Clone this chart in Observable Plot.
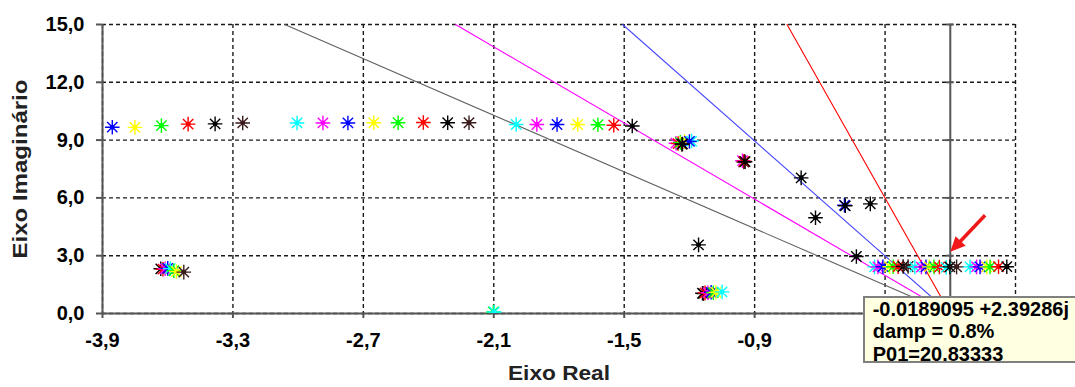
<!DOCTYPE html>
<html><head><meta charset="utf-8">
<script src="https://cdn.jsdelivr.net/npm/d3@7"></script>
<script src="https://cdn.jsdelivr.net/npm/@observablehq/plot@0.6"></script>
<style>
body{margin:0;background:#fff;}
#wrap{position:relative;width:1075px;height:387px;overflow:hidden;}
.tip{position:absolute;background:#ffffe1;border:2px solid #808080;font:bold 20px "Liberation Sans",Arial,sans-serif;line-height:22.5px;padding:0 0 0 8px;white-space:nowrap;box-sizing:border-box;color:#000;}
</style></head><body><div id="wrap"></div>
<script>
// ---- data ----
const seriesNames  = ["cyan","magenta","blue","yellow","green","red","black","dark"];
const seriesColors = ["#00ffff","#ff00ff","#0000ff","#ffff00","#00ff00","#ff0000","#000000","#3a1a1a"];

const poleSeries = [
  "blue","yellow","green","red","black","dark",
  "cyan","magenta","blue","yellow","green","red","black","dark",
  "cyan","magenta","blue","yellow","green","red","black",
  "magenta","red","green","yellow","cyan","blue","dark","black",
  "magenta","dark","red","black",
  "black","blue","black","black","black","black","black",
  "cyan","magenta","blue","yellow","green","red","black","dark",
  "cyan","magenta","blue","yellow","green","red","cyan","black","dark",
  "cyan","magenta","blue","yellow","green","red","black",
  "black","red","magenta","blue","cyan","green","yellow","dark",
  "dark","black","red","magenta","blue","green","yellow","cyan",
  "green","cyan"
];
const poleRe = [
  -3.855,-3.751,-3.629,-3.506,-3.382,-3.255,
  -3.005,-2.886,-2.771,-2.652,-2.540,-2.424,-2.312,-2.214,
  -1.997,-1.902,-1.809,-1.714,-1.621,-1.548,-1.463,
  -1.262,-1.252,-1.242,-1.222,-1.190,-1.200,-1.235,-1.232,
  -0.956,-0.950,-0.948,-0.944,
  -0.686,-0.487,-0.483,-0.368,-0.620,-1.158,-0.432,
  -0.348,-0.333,-0.310,-0.279,-0.263,-0.240,-0.217,-0.194,
  -0.163,-0.133,-0.112,-0.097,-0.075,-0.050,-0.0189095,-0.002,0.029,
  0.091,0.121,0.137,0.168,0.183,0.222,0.260,
  -3.632,-3.622,-3.612,-3.600,-3.588,-3.572,-3.560,-3.526,
  -1.135,-1.140,-1.128,-1.115,-1.100,-1.090,-1.078,-1.050,
  -2.102,-2.098
];
const poleIm = [
  9.67,9.66,9.75,9.83,9.84,9.89,
  9.89,9.89,9.89,9.90,9.90,9.91,9.90,9.90,
  9.81,9.81,9.81,9.81,9.80,9.77,9.73,
  8.84,8.82,8.88,8.92,8.95,8.93,8.78,8.80,
  7.93,7.86,7.90,7.88,
  7.04,5.62,5.59,5.69,4.97,3.56,2.96,
  2.42,2.42,2.43,2.43,2.43,2.43,2.44,2.44,
  2.41,2.41,2.42,2.42,2.42,2.41,2.39286,2.42,2.42,
  2.42,2.42,2.42,2.42,2.42,2.43,2.43,
  2.32,2.30,2.32,2.34,2.33,2.22,2.18,2.15,
  1.03,1.05,1.07,1.08,1.10,1.08,1.10,1.12,
  0.08,0.08
];

const dampingRatios = [0.20, 0.15, 0.10, 0.05];
const dampingColors = ["#606060", "#ff00ff", "#4a4aff", "#ff0000"];

const xTicks = [-3.9,-3.3,-2.7,-2.1,-1.5,-0.9,-0.3,0.3];
// labels of -0,3 and 0,3 are hidden under the tooltip in the original
const xTickLabels = ["-3,9","-3,3","-2,7","-2,1","-1,5","-0,9","",""];
const yTicks = [0,3,6,9,12,15];
const xTitle = "Eixo Real", yTitle = "Eixo Imaginário";

const markedRe = -0.0189095, markedIm = 2.39286, markedP01 = "20.83333";
const arrowTail = [0.16, 5.1], arrowTip = [0.0, 3.2];

// ---- build ----
const W = 1075, H = 387;
const mL = 102, mR = 60, mT = 24, mB = 74;
const xDom = [-3.9, 0.3], yDom = [0, 15];
const fmtY = d => d.toFixed(1).replace(".", ",");
const fmtX = d => xTickLabels[xTicks.indexOf(d)];

const poles = poleRe.map((re, i) => ({re, im: poleIm[i], s: poleSeries[i]}));
const dampLines = dampingRatios.flatMap((z, k) => {
  const top = yDom[1];
  const sig = -top * z / Math.sqrt(1 - z * z);
  return [{k, x: 0, y: 0}, {k, x: sig, y: top}];
});

const star8 = {draw(ctx, size) {
  const r = Math.sqrt(size / Math.PI), d = r * Math.SQRT1_2;
  ctx.moveTo(-r, 0); ctx.lineTo(r, 0);
  ctx.moveTo(0, -r); ctx.lineTo(0, r);
  ctx.moveTo(-d, -d); ctx.lineTo(d, d);
  ctx.moveTo(-d, d); ctx.lineTo(d, -d);
  ctx.moveTo(1.8, 0); ctx.arc(0, 0, 1.8, 0, 2 * Math.PI);
}};
const head = {draw(ctx) {
  ctx.moveTo(0, 0); ctx.lineTo(-7, 15); ctx.lineTo(7, 15); ctx.closePath();
}};

const xs = Plot.scale({x: {domain: xDom, range: [mL, W - mR]}});
const ys = Plot.scale({y: {domain: yDom, range: [H - mB, mT]}});
const adx = xs.apply(arrowTip[0]) - xs.apply(arrowTail[0]);
const ady = ys.apply(arrowTip[1]) - ys.apply(arrowTail[1]);
const headAngle = Math.atan2(adx, -ady) * 180 / Math.PI;
const shaftEnd = [arrowTail[0] + 0.75 * (arrowTip[0] - arrowTail[0]), arrowTail[1] + 0.75 * (arrowTip[1] - arrowTail[1])];

const chart = Plot.plot({
  width: W, height: H,
  marginLeft: mL, marginRight: mR, marginTop: mT, marginBottom: mB,
  x: {domain: xDom},
  y: {domain: yDom},
  color: {domain: seriesNames, range: seriesColors},
  style: {fontFamily: "'Liberation Sans', Arial, sans-serif", fontSize: "20px", fontWeight: "bold", color: "#000", background: "#fff"},
  marks: [
    Plot.ruleX(xTicks, {stroke: "#1a1a1a", strokeDasharray: "4,3", strokeWidth: 1.4}),
    Plot.ruleY(yTicks, {stroke: "#1a1a1a", strokeDasharray: "4,3", strokeWidth: 1.4}),
    Plot.ruleX([-3.9, 0], {y1: 0, y2: 15, stroke: "#555", strokeWidth: 2}),
    Plot.ruleY([0], {x1: -3.9, x2: 0.3, stroke: "#555", strokeWidth: 2}),
    Plot.ruleY(yTicks, {x1: 0, x2: 0, insetLeft: -4, insetRight: -4, stroke: "#555", strokeWidth: 2}),
    Plot.axisX({ticks: xTicks, tickFormat: fmtX, tickSize: 5, tickPadding: 14, stroke: "#555", strokeWidth: 2, label: null}),
    Plot.axisY({ticks: yTicks, tickFormat: fmtY, tickSize: 6, tickPadding: 12, stroke: "#555", strokeWidth: 2, label: null}),
    Plot.line(dampLines, {x: "x", y: "y", z: "k", stroke: d => dampingColors[d.k], strokeWidth: 1.1}),
    Plot.dot(poles, {x: "re", y: "im", symbol: star8, r: 7.3, stroke: "s", fill: "s", strokeWidth: 1.4, clip: true}),
    Plot.link([0], {x1: () => arrowTail[0], y1: () => arrowTail[1], x2: () => shaftEnd[0], y2: () => shaftEnd[1], stroke: "#f01818", strokeWidth: 3.5}),
    Plot.dot([0], {x: () => arrowTip[0], y: () => arrowTip[1], symbol: head, r: 5, fill: "#f01818", stroke: "none", rotate: headAngle}),
    Plot.text([yTitle], {frameAnchor: "left", textAnchor: "middle", dx: -82, rotate: -90, text: d => d, fontSize: 20, fontWeight: "bold", fill: "#222"}),
    Plot.text([xTitle], {frameAnchor: "bottom", textAnchor: "middle", dy: 66, text: d => d, fontSize: 20, fontWeight: "bold", fill: "#222"})
  ]
});
const wrap = document.getElementById("wrap");
wrap.appendChild(chart);
// stretch the axis titles to the width of the original's wide bold font
d3.select(chart).selectAll("text").filter(function(){ return this.textContent === yTitle; })
  .attr("textLength", 179).attr("lengthAdjust", "spacingAndGlyphs");
d3.select(chart).selectAll("text").filter(function(){ return this.textContent === xTitle; })
  .attr("textLength", 102).attr("lengthAdjust", "spacingAndGlyphs");

// tooltip annotation
const damp = (-markedRe / Math.hypot(markedRe, markedIm) * 100).toFixed(1);
const tip = document.createElement("div");
tip.className = "tip";
tip.style.left = (xs.apply(markedRe) - 83) + "px";
tip.style.top = (ys.apply(markedIm) + 29) + "px";
tip.style.width = "240px";
tip.style.height = "67px";
tip.innerHTML = `<div>${markedRe.toFixed(7)} +${markedIm}j</div><div>damp = ${damp}%</div><div>P01=${markedP01}</div>`;
wrap.appendChild(tip);
</script>
</body></html>
